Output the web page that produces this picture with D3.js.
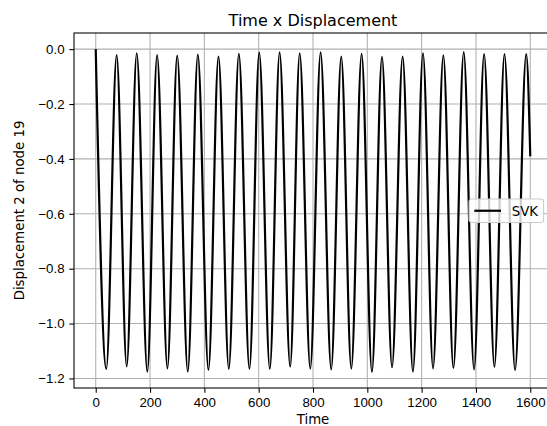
<!DOCTYPE html>
<html>
<head>
<meta charset="utf-8">
<script src="https://cdn.jsdelivr.net/npm/d3@7"></script>
<style>
  body { margin: 0; background: #fff; }
  svg { display: block; font-family: "DejaVu Sans", sans-serif; }
  .axis text { font-size: 13.3px; fill: #000; }
  .axis line { stroke: #000; stroke-width: 1.07; }
  .grid line { stroke: #b0b0b0; stroke-width: 1.07; }
</style>
</head>
<body>
<svg width="547" height="426"></svg>
<script>
// extrema of the response (time, displacement)
var times = [0, 39, 77, 114, 151, 190, 226, 264, 300, 339, 376, 415, 452, 490, 527, 566,
  602, 641, 677, 716, 751, 790, 828, 867, 904, 941, 979, 1017, 1054, 1091, 1130, 1168,
  1205, 1242, 1280, 1317, 1355, 1393, 1430, 1468, 1505, 1544, 1585, 1600];
var svk = [0, -1.165, -0.022, -1.156, -0.015, -1.175, -0.022, -1.163, -0.024, -1.175,
  -0.020, -1.169, -0.027, -1.165, -0.017, -1.165, -0.013, -1.165, -0.012, -1.157,
  -0.015, -1.164, -0.012, -1.167, -0.027, -1.164, -0.017, -1.176, -0.028, -1.159,
  -0.027, -1.175, -0.015, -1.163, -0.023, -1.162, -0.011, -1.167, -0.018, -1.158,
  -0.018, -1.170, -0.018, -0.39];
var xTicks = [0, 200, 400, 600, 800, 1000, 1200, 1400, 1600];
var yTicks = [0, -0.2, -0.4, -0.6, -0.8, -1.0, -1.2];
var seriesName = "SVK";

var svg = d3.select("svg"),
    margin = {top: 33, left: 74},
    width = 478,
    height = 355;

var data = times.map(function(t, i) { return [t, svk[i]]; });

var xe = d3.extent(times), ye = d3.extent(svk),
    xp = (xe[1] - xe[0]) * 0.05, yp = (ye[1] - ye[0]) * 0.05;

var x = d3.scaleLinear()
    .domain([xe[0] - xp, xe[1] + xp])
    .range([0, width]);

var y = d3.scaleLinear()
    .domain([ye[0] - yp, ye[1] + yp])
    .range([height, 0]);

var g = svg.append("g")
    .attr("transform", "translate(" + margin.left + "," + margin.top + ")");

// grid
var grid = g.append("g").attr("class", "grid");
grid.selectAll(".gx")
    .data(xTicks)
  .enter().append("line")
    .attr("x1", function(d) { return x(d); })
    .attr("x2", function(d) { return x(d); })
    .attr("y1", 0)
    .attr("y2", height);
grid.selectAll(".gy")
    .data(yTicks)
  .enter().append("line")
    .attr("y1", function(d) { return y(d); })
    .attr("y2", function(d) { return y(d); })
    .attr("x1", 0)
    .attr("x2", width);

g.append("clipPath")
    .attr("id", "clip")
  .append("rect")
    .attr("width", width)
    .attr("height", height);

g.append("path")
    .datum(data)
    .attr("clip-path", "url(#clip)")
    .attr("fill", "none")
    .attr("stroke", "#000")
    .attr("stroke-width", 2.2)
    .attr("stroke-linejoin", "round")
    .attr("d", d3.line()
        .curve(d3.curveMonotoneX)
        .x(function(d) { return x(d[0]); })
        .y(function(d) { return y(d[1]); }));

// axes
g.append("g")
    .attr("class", "axis axis--x")
    .attr("transform", "translate(0," + height + ")")
    .call(d3.axisBottom(x).tickValues(xTicks).tickFormat(d3.format("d")).tickSize(4.7).tickPadding(4.7))
    .call(function(s) { s.select(".domain").remove(); });

g.append("g")
    .attr("class", "axis axis--y")
    .call(d3.axisLeft(y).tickValues(yTicks).tickFormat(d3.format(".1f")).tickSize(4.7).tickPadding(4.7))
    .call(function(s) { s.select(".domain").remove(); });

g.selectAll(".axis text").attr("font-family", null).attr("font-size", null);

g.append("rect")
    .attr("width", width)
    .attr("height", height)
    .attr("fill", "none")
    .attr("stroke", "#000")
    .attr("stroke-width", 1.07);

// legend
var lg = g.append("g")
    .attr("transform", "translate(" + (width - 83) + "," + (height / 2 - 11.5) + ")");
lg.append("rect")
    .attr("width", 74.6)
    .attr("height", 23.5)
    .attr("rx", 2.7)
    .attr("fill", "#fff")
    .attr("fill-opacity", 0.8)
    .attr("stroke", "#cccccc")
    .attr("stroke-width", 1.07);
lg.append("line")
    .attr("x1", 5.3)
    .attr("x2", 32)
    .attr("y1", 11.75)
    .attr("y2", 11.75)
    .attr("stroke", "#000")
    .attr("stroke-width", 2.2);
lg.append("text")
    .attr("x", 42.7)
    .attr("y", 11.75)
    .attr("dy", "0.36em")
    .attr("font-size", 13.3)
    .text(seriesName);

// labels
svg.append("text")
    .attr("x", margin.left + width / 2)
    .attr("y", 26)
    .attr("text-anchor", "middle")
    .attr("font-size", 16)
    .text("Time x Displacement");

svg.append("text")
    .attr("x", margin.left + width / 2)
    .attr("y", 424)
    .attr("text-anchor", "middle")
    .attr("font-size", 13.3)
    .text("Time");

svg.append("text")
    .attr("transform", "translate(24," + (margin.top + height / 2) + ") rotate(-90)")
    .attr("text-anchor", "middle")
    .attr("font-size", 13.3)
    .text("Displacement 2 of node 19");
</script>
</body>
</html>
